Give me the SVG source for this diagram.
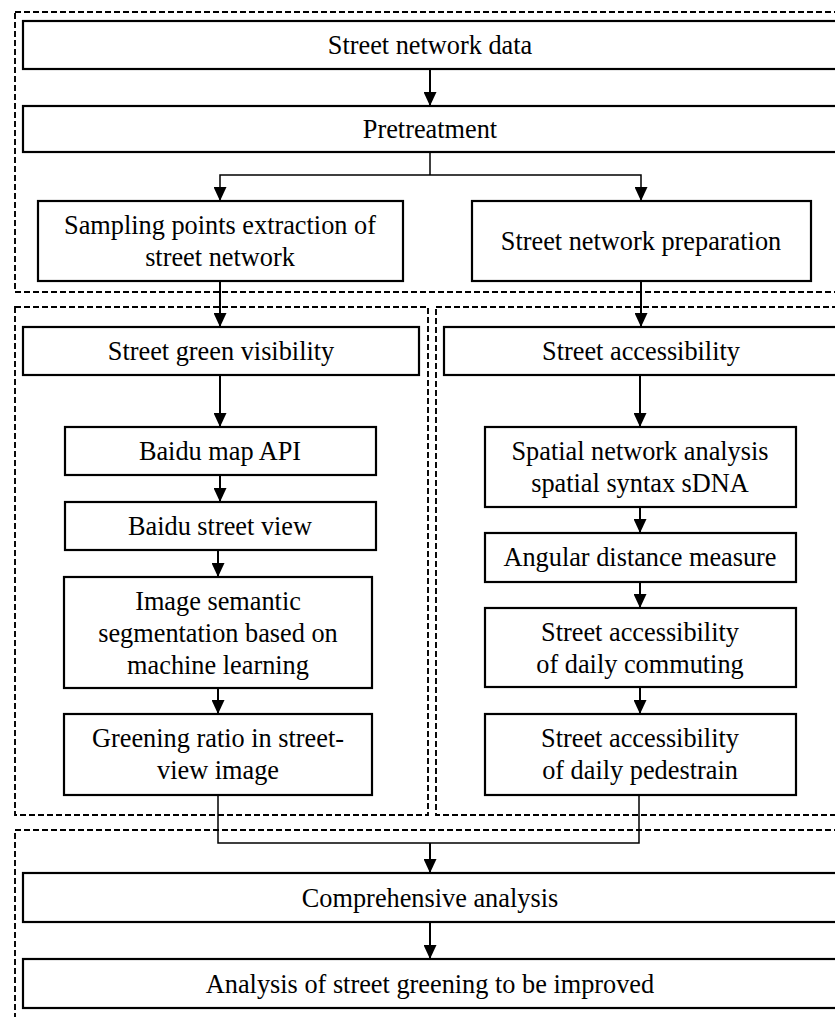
<svg xmlns="http://www.w3.org/2000/svg" width="835" height="1017" viewBox="0 0 835 1017">
<style>
.box{fill:#fff;stroke:#000;stroke-width:2.2}
.grp{fill:none;stroke:#000;stroke-width:1.9;stroke-dasharray:6 3}
.t{font-family:"Liberation Serif","Times New Roman",serif;font-size:26.3px;fill:#000;text-anchor:middle}
.arr{fill:none;stroke:#000;stroke-width:2;marker-end:url(#ah)}
.ln{fill:none;stroke:#000;stroke-width:1.5}
</style>
<defs>
<marker id="ah" markerUnits="userSpaceOnUse" markerWidth="14" markerHeight="13" refX="14" refY="6.5" orient="auto" viewBox="0 0 14 13">
<path d="M0,0 L14,6.5 L0,13 z" fill="#000"/>
</marker>
</defs>
<rect width="835" height="1017" fill="#fff"/>
<g id="groups">
<rect class="grp" x="15" y="12" width="835" height="280"/>
<rect class="grp" x="15" y="307" width="413" height="508"/>
<rect class="grp" x="436" y="307" width="414" height="508"/>
<rect class="grp" x="15" y="830" width="835" height="200"/>
</g>
<g id="connectors">
<line class="arr" x1="430" y1="69" x2="430" y2="106"/>
<polyline class="ln" points="430,152 430,175"/>
<polyline class="arr" style="stroke-width:1.5" points="430,175 220,175 220,201"/>
<polyline class="arr" style="stroke-width:1.5" points="430,175 641,175 641,201"/>
<line class="arr" x1="220" y1="281" x2="220" y2="327"/>
<line class="arr" x1="641" y1="281" x2="641" y2="327"/>
<line class="arr" x1="220" y1="375" x2="220" y2="427"/>
<line class="arr" x1="220" y1="475" x2="220" y2="502"/>
<line class="arr" x1="218" y1="550" x2="218" y2="577"/>
<line class="arr" x1="218" y1="688" x2="218" y2="714"/>
<polyline class="ln" points="218,795 218,843 639,843 639,795"/>
<line class="arr" x1="430" y1="843" x2="430" y2="873"/>
<line class="arr" x1="640" y1="375" x2="640" y2="427"/>
<line class="arr" x1="640" y1="507" x2="640" y2="533"/>
<line class="arr" x1="640" y1="582" x2="640" y2="608"/>
<line class="arr" x1="640" y1="687" x2="640" y2="714"/>
<line class="arr" x1="430" y1="922" x2="430" y2="959"/>
</g>
<g id="n-street-network-data"><rect class="box" x="23" y="21" width="815" height="48"/><text class="t" x="430" y="54">Street network data</text></g>
<g id="n-pretreatment"><rect class="box" x="23" y="106" width="815" height="46"/><text class="t" x="430" y="138">Pretreatment</text></g>
<g id="n-sampling"><rect class="box" x="38" y="201" width="365" height="80"/><text class="t" x="220" y="234">Sampling points extraction of</text><text class="t" x="220" y="266">street network</text></g>
<g id="n-preparation"><rect class="box" x="472" y="201" width="339" height="80"/><text class="t" x="641" y="250">Street network preparation</text></g>
<g id="n-green-visibility"><rect class="box" x="23" y="327" width="396" height="48"/><text class="t" x="221" y="360">Street green visibility</text></g>
<g id="n-baidu-api"><rect class="box" x="65" y="427" width="311" height="48"/><text class="t" x="220" y="460">Baidu map API</text></g>
<g id="n-baidu-view"><rect class="box" x="65" y="502" width="311" height="48"/><text class="t" x="220" y="535">Baidu street view</text></g>
<g id="n-segmentation"><rect class="box" x="64" y="577" width="308" height="111"/><text class="t" x="218" y="609.5">Image semantic</text><text class="t" x="218" y="641.5">segmentation based on</text><text class="t" x="218" y="673.5">machine learning</text></g>
<g id="n-greening-ratio"><rect class="box" x="64" y="714" width="308" height="81"/><text class="t" x="218" y="746.5">Greening ratio in street-</text><text class="t" x="218" y="778.5">view image</text></g>
<g id="n-accessibility"><rect class="box" x="444" y="327" width="394" height="48"/><text class="t" x="641" y="360">Street accessibility</text></g>
<g id="n-spatial"><rect class="box" x="485" y="427" width="311" height="80"/><text class="t" x="640" y="460">Spatial network analysis</text><text class="t" x="640" y="492">spatial syntax sDNA</text></g>
<g id="n-angular"><rect class="box" x="485" y="533" width="311" height="49"/><text class="t" x="640" y="566">Angular distance measure</text></g>
<g id="n-commuting"><rect class="box" x="485" y="608" width="311" height="79"/><text class="t" x="640" y="640.5">Street accessibility</text><text class="t" x="640" y="672.5">of daily commuting</text></g>
<g id="n-pedestrain"><rect class="box" x="485" y="714" width="311" height="81"/><text class="t" x="640" y="746.5">Street accessibility</text><text class="t" x="640" y="778.5">of daily pedestrain</text></g>
<g id="n-comprehensive"><rect class="box" x="23" y="873" width="815" height="49"/><text class="t" x="430" y="906.5">Comprehensive analysis</text></g>
<g id="n-improved"><rect class="box" x="23" y="959" width="815" height="49"/><text class="t" x="430" y="992.5">Analysis of street greening to be improved</text></g>
</svg>
